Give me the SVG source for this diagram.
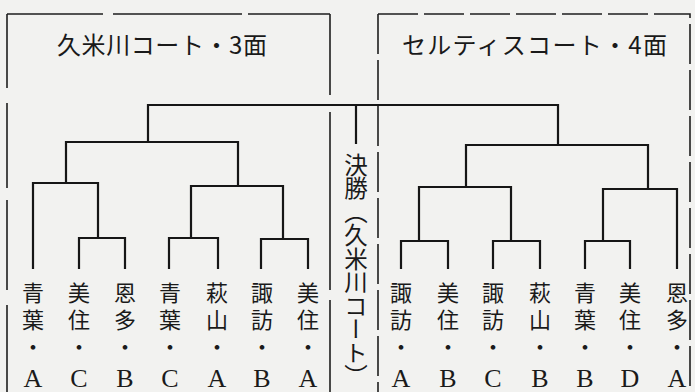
<svg xmlns="http://www.w3.org/2000/svg" width="695" height="392" viewBox="0 0 695 392">
<style>
.bg{fill:#f2f2f0}
.br{stroke:#161616;stroke-width:2.2;fill:none;stroke-linecap:square}
.box{stroke:#1e1e1e;stroke-width:1.6;fill:none}
.dash{stroke:#1e1e1e;stroke-width:1.6;fill:none;stroke-dasharray:40 6}
.jp{font-family:"Noto Sans CJK JP","Noto Sans",sans-serif;fill:#1a1a1a}
.nm{font-size:22px;letter-spacing:5px;writing-mode:vertical-rl}
.lt{font-family:"Liberation Serif","DejaVu Serif",serif;font-size:26px;text-anchor:middle;fill:#1a1a1a}
.title{font-size:24px}
</style>
<rect class="bg" x="0" y="0" width="695" height="392"/>

<g id="court-left">
  <path class="box" d="M7 14H103M113 14H242M248 14H330M7 14V88M7 103V188M7 200V290M7 305V392M330 14V95M330 112V290M330 300V392"/>
  <text class="jp title" x="57" y="54" textLength="210" lengthAdjust="spacing">久米川コート・3面</text>
</g>
<g id="court-right">
  <path class="dash" d="M378 14H690V392M378 14V392"/>
  <text class="jp title" x="402" y="54" textLength="265" lengthAdjust="spacing">セルティスコート・4面</text>
</g>

<g id="connectors">
  <path class="br" d="M148 105H558M148 105V142M356 105V143M558 105V145"/>
  <path class="br" d="M66 142H238M66 142V183M238 142V186"/>
  <path class="br" d="M33 183H98M33 183V268M98 183V238"/>
  <path class="br" d="M79 238H125M79 238V268M125 238V268"/>
  <path class="br" d="M191 186H283M191 186V238M283 186V239"/>
  <path class="br" d="M169 238H218M169 238V268M218 238V268"/>
  <path class="br" d="M261 239H308M261 239V268M308 239V268"/>
  <path class="br" d="M466 145H648M466 145V187M648 145V189"/>
  <path class="br" d="M419 187H511M419 187V241M511 187V241"/>
  <path class="br" d="M401 241H448M401 241V268M448 241V268"/>
  <path class="br" d="M493 241H540M493 241V268M540 241V268"/>
  <path class="br" d="M603 189H677M603 189V241M677 189V268"/>
  <path class="br" d="M585 241H630M585 241V268M630 241V268"/>
</g>

<g id="final">
  <text class="jp" x="356" y="153" font-size="23.5" style="writing-mode:vertical-rl">決勝（久米川コート）</text>
</g>

<g id="L1"><text class="jp nm" x="33" y="282">青葉・</text><text class="lt" x="33" y="387">A</text></g>
<g id="L2"><text class="jp nm" x="79" y="282">美住・</text><text class="lt" x="79" y="387">C</text></g>
<g id="L3"><text class="jp nm" x="125" y="282">恩多・</text><text class="lt" x="125" y="387">B</text></g>
<g id="L4"><text class="jp nm" x="170" y="282">青葉・</text><text class="lt" x="170" y="387">C</text></g>
<g id="L5"><text class="jp nm" x="217" y="282">萩山・</text><text class="lt" x="217" y="387">A</text></g>
<g id="L6"><text class="jp nm" x="262" y="282">諏訪・</text><text class="lt" x="262" y="387">B</text></g>
<g id="L7"><text class="jp nm" x="308" y="282">美住・</text><text class="lt" x="308" y="387">A</text></g>

<g id="R1"><text class="jp nm" x="401" y="282">諏訪・</text><text class="lt" x="401" y="387">A</text></g>
<g id="R2"><text class="jp nm" x="448" y="282">美住・</text><text class="lt" x="448" y="387">B</text></g>
<g id="R3"><text class="jp nm" x="493" y="282">諏訪・</text><text class="lt" x="493" y="387">C</text></g>
<g id="R4"><text class="jp nm" x="540" y="282">萩山・</text><text class="lt" x="540" y="387">B</text></g>
<g id="R5"><text class="jp nm" x="585" y="282">青葉・</text><text class="lt" x="585" y="387">B</text></g>
<g id="R6"><text class="jp nm" x="630" y="282">美住・</text><text class="lt" x="630" y="387">D</text></g>
<g id="R7"><text class="jp nm" x="677" y="282">恩多・</text><text class="lt" x="677" y="387">A</text></g>
</svg>
